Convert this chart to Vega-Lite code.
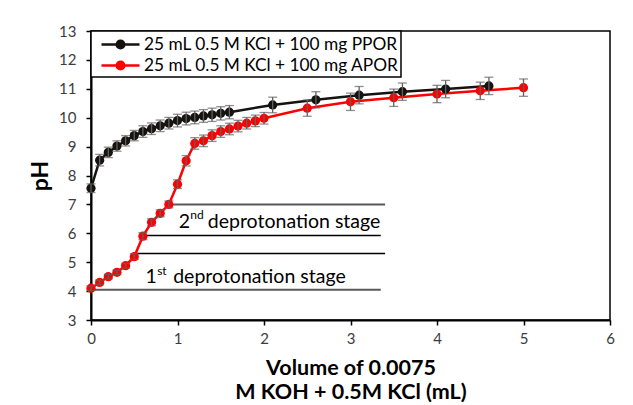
{
  "$schema": "https://vega.github.io/schema/vega-lite/v6.json",
  "width": 519,
  "height": 289,
  "autosize": "none",
  "padding": {"left": 91, "top": 31, "right": 23, "bottom": 85},
  "background": "white",
  "config": {
    "view": {"stroke": "#000000", "strokeWidth": 1.5},
    "font": "Lato",
    "axis": {"grid": false, "labelFlush": false, "domainColor": "#000000", "domainWidth": 2, "tickColor": "#000000", "tickWidth": 1.5, "tickSize": 5, "labelFont": "Lato", "labelFontSize": 15, "labelColor": "#3c3c3c", "titleFont": "Lato", "titleFontWeight": "bold", "titleColor": "#000000"}
  },
  "datasets": {
    "titration": [
      {"series": "25 mL 0.5 M KCl + 100 mg PPOR", "v": 0.0, "ph": 7.56, "err": 0.15},
      {"series": "25 mL 0.5 M KCl + 100 mg PPOR", "v": 0.1, "ph": 8.53, "err": 0.2},
      {"series": "25 mL 0.5 M KCl + 100 mg PPOR", "v": 0.2, "ph": 8.8, "err": 0.18},
      {"series": "25 mL 0.5 M KCl + 100 mg PPOR", "v": 0.3, "ph": 9.02, "err": 0.18},
      {"series": "25 mL 0.5 M KCl + 100 mg PPOR", "v": 0.4, "ph": 9.2, "err": 0.18},
      {"series": "25 mL 0.5 M KCl + 100 mg PPOR", "v": 0.5, "ph": 9.38, "err": 0.18},
      {"series": "25 mL 0.5 M KCl + 100 mg PPOR", "v": 0.6, "ph": 9.52, "err": 0.2},
      {"series": "25 mL 0.5 M KCl + 100 mg PPOR", "v": 0.7, "ph": 9.62, "err": 0.2},
      {"series": "25 mL 0.5 M KCl + 100 mg PPOR", "v": 0.8, "ph": 9.72, "err": 0.2},
      {"series": "25 mL 0.5 M KCl + 100 mg PPOR", "v": 0.9, "ph": 9.81, "err": 0.2},
      {"series": "25 mL 0.5 M KCl + 100 mg PPOR", "v": 1.0, "ph": 9.9, "err": 0.22},
      {"series": "25 mL 0.5 M KCl + 100 mg PPOR", "v": 1.1, "ph": 9.97, "err": 0.22},
      {"series": "25 mL 0.5 M KCl + 100 mg PPOR", "v": 1.2, "ph": 10.01, "err": 0.22},
      {"series": "25 mL 0.5 M KCl + 100 mg PPOR", "v": 1.3, "ph": 10.06, "err": 0.22},
      {"series": "25 mL 0.5 M KCl + 100 mg PPOR", "v": 1.4, "ph": 10.1, "err": 0.23},
      {"series": "25 mL 0.5 M KCl + 100 mg PPOR", "v": 1.5, "ph": 10.15, "err": 0.23},
      {"series": "25 mL 0.5 M KCl + 100 mg PPOR", "v": 1.6, "ph": 10.19, "err": 0.23},
      {"series": "25 mL 0.5 M KCl + 100 mg PPOR", "v": 2.1, "ph": 10.44, "err": 0.27},
      {"series": "25 mL 0.5 M KCl + 100 mg PPOR", "v": 2.6, "ph": 10.62, "err": 0.28},
      {"series": "25 mL 0.5 M KCl + 100 mg PPOR", "v": 3.1, "ph": 10.78, "err": 0.3},
      {"series": "25 mL 0.5 M KCl + 100 mg PPOR", "v": 3.6, "ph": 10.9, "err": 0.3},
      {"series": "25 mL 0.5 M KCl + 100 mg PPOR", "v": 4.1, "ph": 10.99, "err": 0.3},
      {"series": "25 mL 0.5 M KCl + 100 mg PPOR", "v": 4.6, "ph": 11.1, "err": 0.3},
      {"series": "25 mL 0.5 M KCl + 100 mg APOR", "v": 0.0, "ph": 4.1, "err": 0.08},
      {"series": "25 mL 0.5 M KCl + 100 mg APOR", "v": 0.1, "ph": 4.3, "err": 0.08},
      {"series": "25 mL 0.5 M KCl + 100 mg APOR", "v": 0.2, "ph": 4.5, "err": 0.08},
      {"series": "25 mL 0.5 M KCl + 100 mg APOR", "v": 0.3, "ph": 4.65, "err": 0.08},
      {"series": "25 mL 0.5 M KCl + 100 mg APOR", "v": 0.4, "ph": 4.88, "err": 0.08},
      {"series": "25 mL 0.5 M KCl + 100 mg APOR", "v": 0.5, "ph": 5.19, "err": 0.1},
      {"series": "25 mL 0.5 M KCl + 100 mg APOR", "v": 0.6, "ph": 5.9, "err": 0.12},
      {"series": "25 mL 0.5 M KCl + 100 mg APOR", "v": 0.7, "ph": 6.38, "err": 0.12},
      {"series": "25 mL 0.5 M KCl + 100 mg APOR", "v": 0.8, "ph": 6.69, "err": 0.12},
      {"series": "25 mL 0.5 M KCl + 100 mg APOR", "v": 0.9, "ph": 7.0, "err": 0.12},
      {"series": "25 mL 0.5 M KCl + 100 mg APOR", "v": 1.0, "ph": 7.7, "err": 0.15},
      {"series": "25 mL 0.5 M KCl + 100 mg APOR", "v": 1.1, "ph": 8.51, "err": 0.18},
      {"series": "25 mL 0.5 M KCl + 100 mg APOR", "v": 1.2, "ph": 9.11, "err": 0.2},
      {"series": "25 mL 0.5 M KCl + 100 mg APOR", "v": 1.3, "ph": 9.2, "err": 0.2},
      {"series": "25 mL 0.5 M KCl + 100 mg APOR", "v": 1.4, "ph": 9.38, "err": 0.2},
      {"series": "25 mL 0.5 M KCl + 100 mg APOR", "v": 1.5, "ph": 9.52, "err": 0.2},
      {"series": "25 mL 0.5 M KCl + 100 mg APOR", "v": 1.6, "ph": 9.61, "err": 0.2},
      {"series": "25 mL 0.5 M KCl + 100 mg APOR", "v": 1.7, "ph": 9.71, "err": 0.2},
      {"series": "25 mL 0.5 M KCl + 100 mg APOR", "v": 1.8, "ph": 9.81, "err": 0.2},
      {"series": "25 mL 0.5 M KCl + 100 mg APOR", "v": 1.9, "ph": 9.89, "err": 0.2},
      {"series": "25 mL 0.5 M KCl + 100 mg APOR", "v": 2.0, "ph": 9.98, "err": 0.2},
      {"series": "25 mL 0.5 M KCl + 100 mg APOR", "v": 2.5, "ph": 10.33, "err": 0.28},
      {"series": "25 mL 0.5 M KCl + 100 mg APOR", "v": 3.0, "ph": 10.55, "err": 0.3},
      {"series": "25 mL 0.5 M KCl + 100 mg APOR", "v": 3.5, "ph": 10.69, "err": 0.3},
      {"series": "25 mL 0.5 M KCl + 100 mg APOR", "v": 4.0, "ph": 10.82, "err": 0.3},
      {"series": "25 mL 0.5 M KCl + 100 mg APOR", "v": 4.5, "ph": 10.93, "err": 0.3},
      {"series": "25 mL 0.5 M KCl + 100 mg APOR", "v": 5.0, "ph": 11.04, "err": 0.3}
    ]
  },
  "layer": [
    {
      "data": {"values": [{"x1": 0.93, "x2": 3.4, "y": 7.0}, {"x1": 0.0, "x2": 3.35, "y": 4.05}]},
      "mark": {"type": "rule", "color": "#595959", "strokeWidth": 2},
      "encoding": {
        "x": {"field": "x1", "type": "quantitative", "scale": {"domain": [0, 6]}},
        "x2": {"field": "x2"},
        "y": {"field": "y", "type": "quantitative", "scale": {"domain": [3, 13]}}
      }
    },
    {
      "data": {"values": [{"x1": 0.62, "x2": 3.35, "y": 5.92}, {"x1": 0.53, "x2": 3.4, "y": 5.3}]},
      "mark": {"type": "rule", "color": "#000000", "strokeWidth": 1.5},
      "encoding": {
        "x": {"field": "x1", "type": "quantitative"},
        "x2": {"field": "x2"},
        "y": {"field": "y", "type": "quantitative"}
      }
    },
    {
      "data": {"values": [{"t": "2", "x": 1.015, "y": 6.19}, {"t": "deprotonation stage", "x": 1.35, "y": 6.19}, {"t": "1", "x": 0.63, "y": 4.27}, {"t": "deprotonation stage", "x": 0.95, "y": 4.27}]},
      "mark": {"type": "text", "align": "left", "baseline": "alphabetic", "font": "Lato", "fontSize": 19.5, "color": "#000000"},
      "encoding": {
        "x": {"field": "x", "type": "quantitative"},
        "y": {"field": "y", "type": "quantitative"},
        "text": {"field": "t"}
      }
    },
    {
      "data": {"values": [{"t": "nd", "x": 1.148, "y": 6.51}, {"t": "st", "x": 0.765, "y": 4.56}]},
      "mark": {"type": "text", "align": "left", "baseline": "alphabetic", "font": "Lato", "fontSize": 12, "color": "#000000"},
      "encoding": {
        "x": {"field": "x", "type": "quantitative"},
        "y": {"field": "y", "type": "quantitative"},
        "text": {"field": "t"}
      }
    },
    {
      "data": {"name": "titration"},
      "mark": {"type": "line", "strokeWidth": 2.5},
      "encoding": {
        "x": {"field": "v", "type": "quantitative"},
        "y": {"field": "ph", "type": "quantitative"},
        "color": {"field": "series", "type": "nominal"}
      }
    },
    {
      "data": {"name": "titration"},
      "mark": {"type": "point", "filled": true, "size": 85, "opacity": 1},
      "encoding": {
        "x": {"field": "v", "type": "quantitative"},
        "y": {"field": "ph", "type": "quantitative"},
        "color": {"field": "series", "type": "nominal"}
      }
    },
    {
      "data": {"name": "titration"},
      "mark": {"type": "errorbar", "color": "#606060", "thickness": 1.3, "ticks": {"size": 9, "color": "#606060", "thickness": 1.3}},
      "encoding": {
        "x": {"field": "v", "type": "quantitative"},
        "y": {"field": "ph", "type": "quantitative"},
        "yError": {"field": "err"},
        "detail": {"field": "series", "type": "nominal"}
      }
    }
  ],
  "resolve": {"scale": {"x": "shared", "y": "shared"}},
  "encoding": {
    "x": {"axis": {"values": [0, 1, 2, 3, 4, 5, 6], "labelPadding": 6, "titleFontSize": 21.5, "titleLineHeight": 24, "titlePadding": 11, "title": ["Volume of 0.0075", "M KOH + 0.5M KCl (mL)"]}},
    "y": {"axis": {"values": [3, 4, 5, 6, 7, 8, 9, 10, 11, 12, 13], "labelPadding": 10, "titleFontSize": 23, "titlePadding": 6, "title": "pH"}},
    "color": {
      "scale": {"domain": ["25 mL 0.5 M KCl + 100 mg PPOR", "25 mL 0.5 M KCl + 100 mg APOR"], "range": ["#15130f", "#ff0000"]},
      "legend": {
        "orient": "none", "legendX": 0, "legendY": 0, "title": null,
        "strokeColor": "#000000", "fillColor": "white", "padding": 2, "rowPadding": 0,
        "symbolType": "M-0.3,0H3.5M1.22,0A0.38,0.38 0 1,1 1.98,0A0.38,0.38 0 1,1 1.22,0Z",
        "symbolSize": 400, "symbolStrokeWidth": 2.5, "symbolOpacity": 1,
        "labelFont": "Lato", "labelFontSize": 17.3, "labelColor": "#000000", "labelOffset": 28, "labelLimit": 400,
        "labelExpr": "datum.label + '\u00a0\u00a0\u00a0\u00a0'",
        "encode": {
          "legend": {"update": {"strokeWidth": {"value": 1.5}}},
          "symbols": {"update": {"fill": {"scale": "color", "field": "value"}, "stroke": {"scale": "color", "field": "value"}}}
        }
      }
    }
  }
}
